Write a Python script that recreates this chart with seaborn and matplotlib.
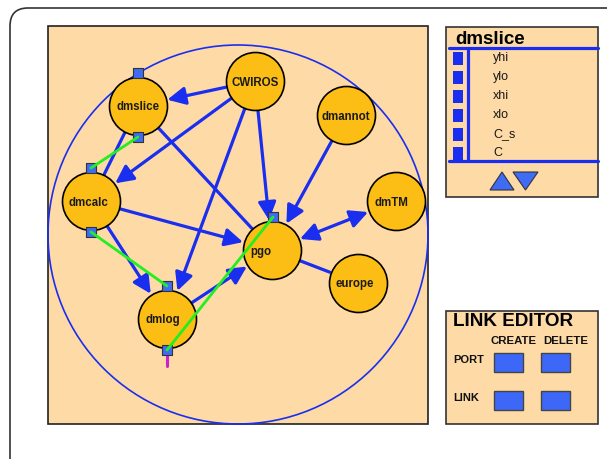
import numpy as np
import pandas as pd
import matplotlib
matplotlib.use("Agg")
import matplotlib.pyplot as plt
import seaborn as sns
from matplotlib.patches import Rectangle, Ellipse, FancyArrowPatch, FancyBboxPatch, Polygon

# ---------------- data ----------------
node_names = ["CWIROS", "dmslice", "dmannot", "dmcalc", "dmTM", "pgo", "europe", "dmlog"]
node_x = [255, 138, 346, 91, 396, 272, 358, 167]
node_y = [81, 106, 115, 201, 201, 250, 283, 319]

edge_src = ["CWIROS", "CWIROS", "CWIROS", "CWIROS", "dmannot", "pgo", "pgo", "dmslice", "dmslice", "dmcalc", "dmcalc", "dmlog"]
edge_dst = ["dmslice", "dmcalc", "dmlog", "pgo", "pgo", "dmTM", "europe", "pgo", "dmcalc", "pgo", "dmlog", "pgo"]
edge_kind = ["->", "->", "->", "->", "->", "<->", "-", "-", "-", "->", "->", "->"]

port_x = [138, 138, 91, 91, 167, 167, 273]
port_y = [73, 137, 168, 232, 286, 350, 217]
link_from = [1, 3, 5]
link_to = [2, 4, 6]

slots = ["yhi", "ylo", "xhi", "xlo", "C_s", "C"]
panel_title = "dmslice"
editor_title = "LINK EDITOR"
editor_cols = ["CREATE", "DELETE"]
editor_rows = ["PORT", "LINK"]

# ---------------- style ----------------
sns.set_style("white")
plt.rcParams["font.family"] = ["Liberation Sans", "DejaVu Sans"]

PEACH = "#FDDAA6"
GOLD = "#FCBE14"
BLUE = "#1A2EF0"
PORTB = "#3F6BF5"
GREEN = "#22EE22"

fig = plt.figure(figsize=(6.07, 4.59), dpi=100)
ax = fig.add_axes([0, 0, 1, 1])
ax.set_xlim(0, 607)
ax.set_ylim(459, 0)
ax.axis("off")

# outer rounded frame
ax.add_patch(FancyBboxPatch((10, 8), 640, 480, boxstyle="round,pad=0,rounding_size=18",
                            fc="white", ec="#333333", lw=1.2, zorder=0))

# main panel
ax.add_patch(Rectangle((48, 26), 380, 398, fc=PEACH, ec="#222222", lw=1.2, zorder=1))
ax.add_patch(Ellipse((238, 234.5), 380, 379, fc="none", ec=BLUE, lw=1.2, zorder=2))

# edges
pos = {n: (x, y) for n, x, y in zip(node_names, node_x, node_y)}
R = 30
for s, d, k in zip(edge_src, edge_dst, edge_kind):
    p0 = np.array(pos[s], float)
    p1 = np.array(pos[d], float)
    u = (p1 - p0) / np.linalg.norm(p1 - p0)
    a = p0 + u * R
    b = p1 - u * R
    style = {"->": "-|>", "<->": "<|-|>", "-": "-"}[k]
    ax.add_patch(FancyArrowPatch(tuple(a), tuple(b), arrowstyle=style, mutation_scale=27,
                                 lw=2.3, color=BLUE, shrinkA=0, shrinkB=0, zorder=3))

# nodes
nodes_df = pd.DataFrame({"x": node_x, "y": node_y, "name": node_names})
diam_pt = 58 * 0.72
sns.scatterplot(data=nodes_df, x="x", y="y", ax=ax, s=diam_pt ** 2, color=GOLD,
                edgecolor="black", linewidth=1.2, legend=False, zorder=4)
label_dx = {"pgo": -11, "dmcalc": -3, "dmlog": -4, "europe": -3, "dmTM": -5}
for n, x, y in zip(node_names, node_x, node_y):
    ax.text(x + label_dx.get(n, 0), y + 1.5, n, ha="center", va="center", fontsize=8.3,
            fontweight="bold", color="#1a1a1a", zorder=7)

# ports
ports_df = pd.DataFrame({"x": port_x, "y": port_y})
sns.scatterplot(data=ports_df, x="x", y="y", ax=ax, marker="s", s=(10.5 * 0.72) ** 2,
                color=PORTB, edgecolor="#333333", linewidth=0.8, legend=False, zorder=5)

# green links
for i, j in zip(link_from, link_to):
    ax.plot([port_x[i], port_x[j]], [port_y[i], port_y[j]], color=GREEN, lw=2.0, zorder=6)
# magenta stub
ax.plot([port_x[5], port_x[5]], [port_y[5], port_y[5] + 16], color="#CC22CC", lw=2.2, zorder=4.5)

# ---------------- right panel: dmslice ----------------
ax.add_patch(Rectangle((446, 27), 152, 170, fc=PEACH, ec="#333333", lw=1.2, zorder=1))
ax.text(455, 39.5, panel_title, fontsize=13.5, fontweight="bold", ha="left", va="center",
        color="black", zorder=3)
ax.plot([449, 598], [47.5, 47.5], color=BLUE, lw=2.3, zorder=3)
ax.plot([449, 598], [161, 161], color=BLUE, lw=2.3, zorder=3)
ax.plot([467.5, 467.5], [47.5, 161], color=BLUE, lw=2.3, zorder=3)
for i, sname in enumerate(slots):
    yy = 58 + i * 19
    ax.add_patch(Rectangle((453, yy - 6.5), 9.5, 13, fc=BLUE, ec="none", zorder=3))
    ax.text(493, yy, sname, fontsize=9, ha="left", va="center", color="#1a1a1a", zorder=3)
ax.add_patch(Polygon([(490, 190), (514, 190), (502, 172)], closed=True, fc=PORTB,
                     ec="#333333", lw=0.8, zorder=3))
ax.add_patch(Polygon([(513, 172), (538, 172), (525.5, 190)], closed=True, fc=PORTB,
                     ec="#333333", lw=0.8, zorder=3))

# ---------------- right panel: link editor ----------------
ax.add_patch(Rectangle((446, 311), 152, 113, fc=PEACH, ec="#333333", lw=1.2, zorder=1))
ax.text(453, 322, editor_title, fontsize=13.6, fontweight="bold", ha="left", va="center",
        color="black", zorder=3)
col_x = [514, 566]
row_y = [362.5, 400.5]
for cx, cname in zip(col_x, editor_cols):
    ax.text(cx, 341, cname, fontsize=8.2, fontweight="bold", ha="center", va="center",
            color="#111111", zorder=3)
for ry, rname in zip(row_y, editor_rows):
    ax.text(453, ry - 2.5, rname, fontsize=8, fontweight="bold", ha="left", va="center",
            color="#111111", zorder=3)
    for cx in [508, 555]:
        ax.add_patch(Rectangle((cx - 14.5, ry - 9.5), 29, 19, fc="#3D68F7", ec="#444444",
                               lw=1.0, zorder=3))

fig.savefig("out.png", dpi=100)
